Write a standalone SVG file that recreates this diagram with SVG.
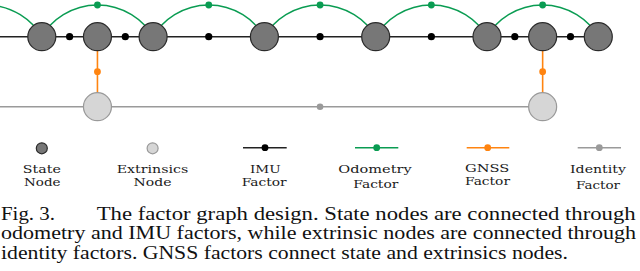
<svg xmlns="http://www.w3.org/2000/svg" width="640" height="271" viewBox="0 0 640 271">
<style>
.imu{stroke:#222;stroke-width:1.6;fill:none}
.odo{stroke:#0a9c52;stroke-width:1.4;fill:none}
.gnss{stroke:#ff8410;stroke-width:1.6;fill:none}
.idf{stroke:#9a9a9a;stroke-width:1.4;fill:none}
.dk{fill:#000}
.gd{fill:#0a9c52}
.od{fill:#ff8410}
.yd{fill:#9a9a9a}
.state{fill:#777;stroke:#2a2a2a;stroke-width:1.2}
.ext{fill:#d6d6d6;stroke:#999;stroke-width:1.2}
.lg{font-family:"DejaVu Serif","Liberation Serif",serif;font-size:11px;fill:#1a1a1a;text-anchor:middle}
.cap{font-family:"Liberation Serif","Times New Roman",serif;font-size:19px;fill:#111}
</style>
<rect width="640" height="271" fill="#fff"/>
<g id="connectors">
  <path class="imu" d="M0 36.7H598.3"/>
  <path class="idf" d="M0 106.7H542.65"/>
  <path class="odo" d="M-69.5 36.7A64.7 64.7 0 0 1 41.8 36.7"/>
  <path class="odo" d="M41.8 36.7A64.7 64.7 0 0 1 153.1 36.7"/>
  <path class="odo" d="M153.1 36.7A64.7 64.7 0 0 1 264.4 36.7"/>
  <path class="odo" d="M264.4 36.7A64.7 64.7 0 0 1 375.7 36.7"/>
  <path class="odo" d="M375.7 36.7A64.7 64.7 0 0 1 487 36.7"/>
  <path class="odo" d="M487 36.7A64.7 64.7 0 0 1 598.3 36.7"/>
  <path class="gnss" d="M97.45 36.7V106.7"/>
  <path class="gnss" d="M542.65 36.7V106.7"/>
  <circle class="dk" cx="69.6" cy="36.7" r="3.6"/>
  <circle class="dk" cx="125.3" cy="36.7" r="3.6"/>
  <circle class="dk" cx="208.75" cy="36.7" r="3.6"/>
  <circle class="dk" cx="320.05" cy="36.7" r="3.6"/>
  <circle class="dk" cx="431.35" cy="36.7" r="3.6"/>
  <circle class="dk" cx="514.8" cy="36.7" r="3.6"/>
  <circle class="dk" cx="570.5" cy="36.7" r="3.6"/>
  <circle class="gd" cx="97.45" cy="5" r="3.4"/>
  <circle class="gd" cx="208.75" cy="5" r="3.4"/>
  <circle class="gd" cx="320.05" cy="5" r="3.4"/>
  <circle class="gd" cx="431.35" cy="5" r="3.4"/>
  <circle class="gd" cx="542.65" cy="5" r="3.4"/>
  <circle class="od" cx="97.45" cy="71.7" r="3.4"/>
  <circle class="od" cx="542.65" cy="71.7" r="3.4"/>
  <circle class="yd" cx="320.05" cy="106.7" r="3.3"/>
</g>
<g id="state-nodes">
  <circle id="s0" class="state" cx="41.8" cy="36.7" r="14"/>
  <circle id="s1" class="state" cx="97.45" cy="36.7" r="14"/>
  <circle id="s2" class="state" cx="153.1" cy="36.7" r="14"/>
  <circle id="s3" class="state" cx="264.4" cy="36.7" r="14"/>
  <circle id="s4" class="state" cx="375.7" cy="36.7" r="14"/>
  <circle id="s5" class="state" cx="487" cy="36.7" r="14"/>
  <circle id="s6" class="state" cx="542.65" cy="36.7" r="14"/>
  <circle id="s7" class="state" cx="598.3" cy="36.7" r="14"/>
</g>
<g id="extrinsics-nodes">
  <circle id="e0" class="ext" cx="97.45" cy="106.7" r="14"/>
  <circle id="e1" class="ext" cx="542.65" cy="106.7" r="14"/>
</g>
<g id="legend">
  <g id="lg-state">
    <circle class="state" cx="41.8" cy="148.3" r="5.5"/>
    <text class="lg" x="41.8" y="172.5" textLength="38" lengthAdjust="spacingAndGlyphs">State</text>
    <text class="lg" x="42.3" y="186" textLength="36.5" lengthAdjust="spacingAndGlyphs">Node</text>
  </g>
  <g id="lg-ext">
    <circle class="ext" cx="152.6" cy="148.3" r="5.5"/>
    <text class="lg" x="152.5" y="172.5" textLength="71.5" lengthAdjust="spacingAndGlyphs">Extrinsics</text>
    <text class="lg" x="152.5" y="186" textLength="38" lengthAdjust="spacingAndGlyphs">Node</text>
  </g>
  <g id="lg-imu">
    <path class="imu" d="M243 147.7H286.7"/>
    <circle class="dk" cx="265" cy="147.7" r="3.4"/>
    <text class="lg" x="265.3" y="172.8" textLength="30.7" lengthAdjust="spacingAndGlyphs">IMU</text>
    <text class="lg" x="264.2" y="185.5" textLength="45" lengthAdjust="spacingAndGlyphs">Factor</text>
  </g>
  <g id="lg-odo">
    <path class="odo" d="M355 147.7H398.3"/>
    <circle class="gd" cx="376.7" cy="147.7" r="3.4"/>
    <text class="lg" x="375" y="173.3" textLength="73.3" lengthAdjust="spacingAndGlyphs">Odometry</text>
    <text class="lg" x="375.8" y="188.3" textLength="45" lengthAdjust="spacingAndGlyphs">Factor</text>
  </g>
  <g id="lg-gnss">
    <path class="gnss" d="M466.7 147.7H509.3"/>
    <circle class="od" cx="487.7" cy="147.7" r="3.4"/>
    <text class="lg" x="487.2" y="171.5" textLength="44.3" lengthAdjust="spacingAndGlyphs">GNSS</text>
    <text class="lg" x="487.5" y="184.5" textLength="45" lengthAdjust="spacingAndGlyphs">Factor</text>
  </g>
  <g id="lg-id">
    <path class="idf" d="M577.7 147.7H621"/>
    <circle class="yd" cx="599.3" cy="147.7" r="3.4"/>
    <text class="lg" x="598" y="173.3" textLength="56" lengthAdjust="spacingAndGlyphs">Identity</text>
    <text class="lg" x="598" y="188.5" textLength="44" lengthAdjust="spacingAndGlyphs">Factor</text>
  </g>
</g>
<g id="caption">
  <text class="cap" x="1" y="219.5" textLength="54" lengthAdjust="spacingAndGlyphs">Fig. 3.</text>
  <text class="cap" x="96.7" y="219.5" textLength="539" lengthAdjust="spacingAndGlyphs">The factor graph design. State nodes are connected through</text>
  <text class="cap" x="1" y="239" textLength="635" lengthAdjust="spacingAndGlyphs">odometry and IMU factors, while extrinsic nodes are connected through</text>
  <text class="cap" x="1" y="258.5" textLength="567" lengthAdjust="spacingAndGlyphs">identity factors. GNSS factors connect state and extrinsics nodes.</text>
</g>
</svg>
